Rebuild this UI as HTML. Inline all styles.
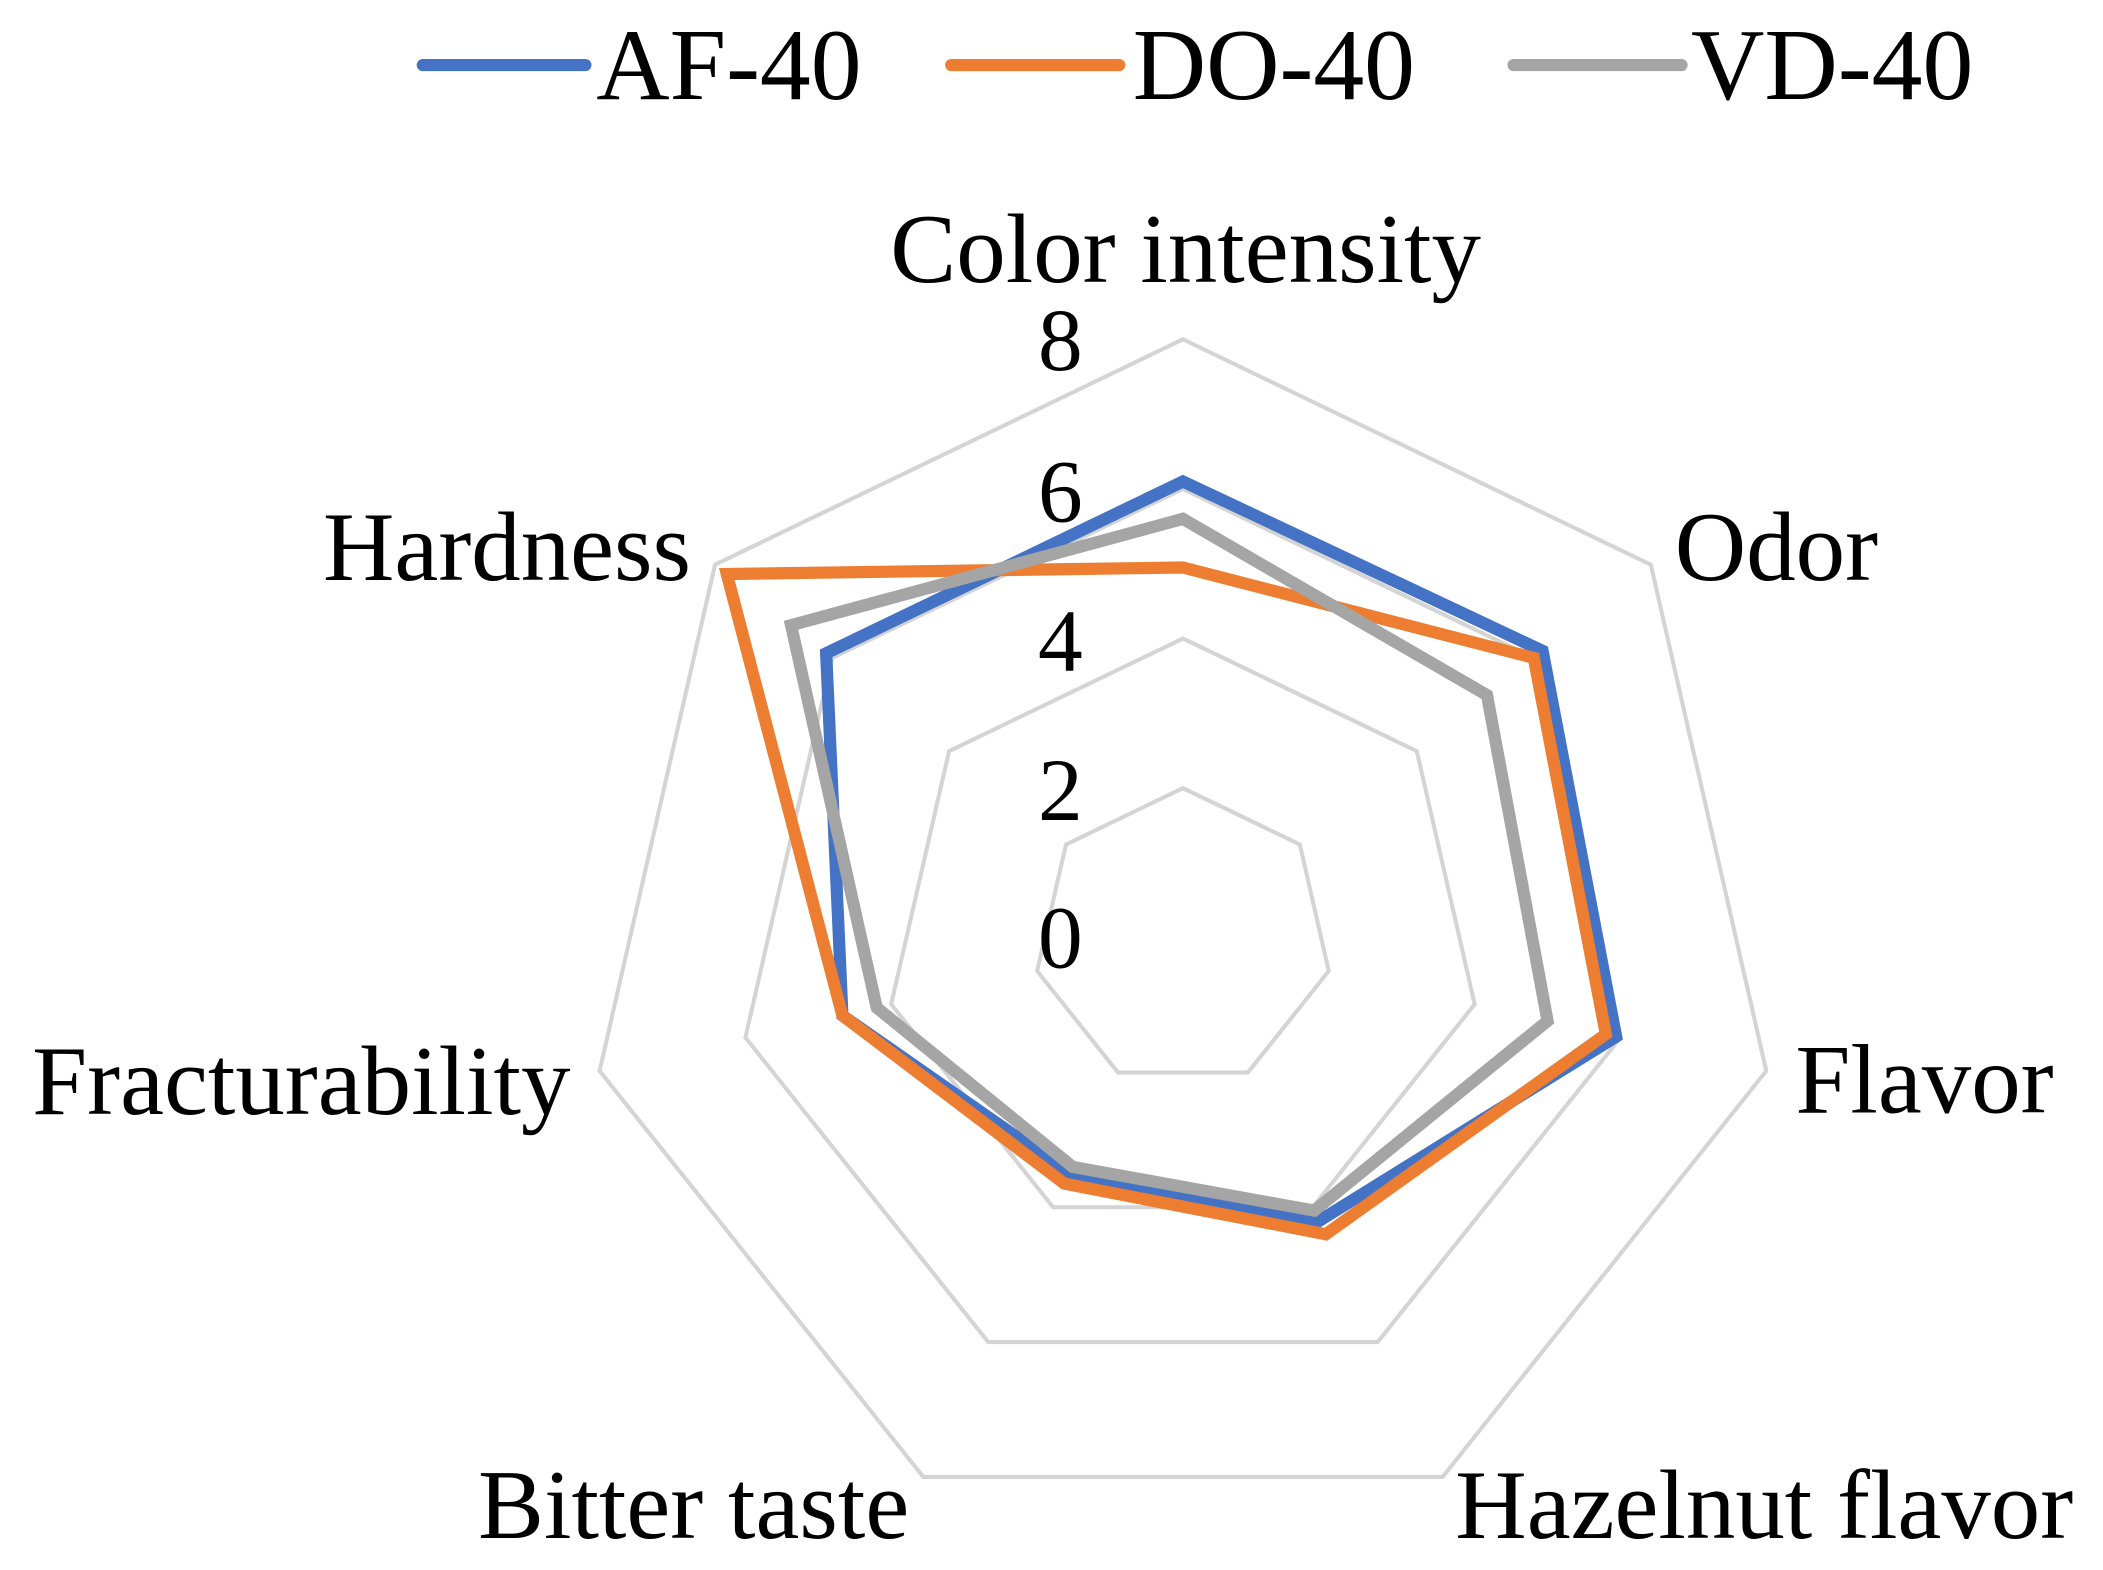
<!DOCTYPE html>
<html><head><meta charset="utf-8"><style>
html,body{margin:0;padding:0;background:#fff;}
svg{display:block;}
text{font-family:"Liberation Serif",serif;fill:#000;}
</style></head><body>
<svg id="s" width="2103" height="1570" viewBox="0 0 1552 1158.6" preserveAspectRatio="none" xmlns="http://www.w3.org/2000/svg">
<g id="grid" fill="none" stroke="#d4d4d4" stroke-width="3"></g>
<g font-size="66" text-anchor="end">
<text x="799" y="714">0</text>
<text x="799" y="605">2</text>
<text x="799" y="495">4</text>
<text x="799" y="385">6</text>
<text x="799" y="273">8</text>
</g>
<g id="data" fill="none" stroke-width="9" stroke-linejoin="miter"></g>
<g font-size="73">
<text x="875" y="208" text-anchor="middle">Color intensity</text>
<text x="1236" y="428">Odor</text>
<text x="1325" y="821">Flavor</text>
<text x="1074" y="1135">Hazelnut flavor</text>
<text x="671" y="1135" text-anchor="end">Bitter taste</text>
<text x="421" y="822" text-anchor="end">Fracturability</text>
<text x="510" y="428" text-anchor="end">Hardness</text>
</g>
<g stroke-width="9" stroke-linecap="round">
<line x1="312" y1="48" x2="432" y2="48" stroke="#4472c4"/>
<line x1="702" y1="48" x2="826" y2="48" stroke="#ed7d31"/>
<line x1="1117" y1="48" x2="1241" y2="48" stroke="#a5a5a5"/>
</g>
<g font-size="75">
<text x="440" y="73">AF-40</text>
<text x="836" y="73">DO-40</text>
<text x="1248" y="73">VD-40</text>
</g>
</svg>
<script>
var cx=873,cy=692,u=55.2,NS="http://www.w3.org/2000/svg";
function pts(vals){return vals.map(function(v,i){var a=i*2*Math.PI/7;return (cx+v*u*Math.sin(a)).toFixed(1)+","+(cy-v*u*Math.cos(a)).toFixed(1);}).join(" ");}
var g=document.getElementById("grid");
[2,4,6,8].forEach(function(l){var p=document.createElementNS(NS,"polygon");p.setAttribute("points",pts([l,l,l,l,l,l,l]));g.appendChild(p);});
var d=document.getElementById("data");
[[ "#4472c4",[6.1,6.15,5.94,4.2,3.5,4.67,6.1]],
 [ "#ed7d31",[4.95,6.0,5.8,4.4,3.65,4.67,7.8]],
 [ "#a5a5a5",[5.6,5.2,5.0,4.05,3.4,4.2,6.7]]].forEach(function(s){
 var p=document.createElementNS(NS,"polygon");p.setAttribute("points",pts(s[1]));p.setAttribute("stroke",s[0]);d.appendChild(p);});
</script>
</body></html>
